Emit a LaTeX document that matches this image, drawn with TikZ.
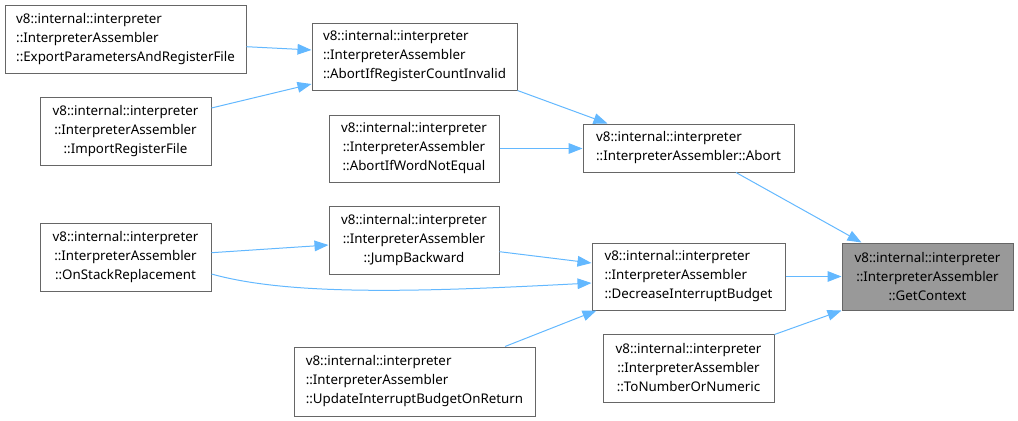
\documentclass[tikz,border=0pt]{standalone}
\usepackage{fontspec}
\setmainfont{Noto Sans}
\usetikzlibrary{arrows.meta,calc}
\definecolor{edgeblue}{HTML}{63B8FF}
\definecolor{boxline}{HTML}{666666}
\definecolor{hilite}{HTML}{999999}
\begin{document}
\begin{tikzpicture}[x=0.75pt,y=-0.75pt,
  box/.style={draw=boxline,line width=0.75pt,fill=white,inner sep=0pt,
    font=\fontsize{10pt}{14.25pt}\selectfont,text=black},
  lbox/.style={box,align=left},
  cbox/.style={box,align=center},
  edge/.style={draw=edgeblue,line width=0.75pt,-{Triangle[length=10.5pt,width=8pt]}}]
\useasboundingbox (0,0) rectangle (1018,421);
\node[lbox,minimum width=180.75pt,minimum height=51pt] (exp) at (125.5,39)
  {v8::internal::interpreter\\::InterpreterAssembler\\::ExportParametersAndRegisterFile};
\node[cbox,minimum width=128.25pt,minimum height=51pt] (imp) at (125.5,131)
  {v8::internal::interpreter\\::InterpreterAssembler\\::ImportRegisterFile};
\node[lbox,minimum width=153.75pt,minimum height=50.25pt] (arc) at (414.5,56.5)
  {v8::internal::interpreter\\::InterpreterAssembler\\::AbortIfRegisterCountInvalid};
\node[cbox,minimum width=127.5pt,minimum height=50.25pt] (wne) at (414,148.5)
  {v8::internal::interpreter\\::InterpreterAssembler\\::AbortIfWordNotEqual};
\node[lbox,minimum width=158.25pt,minimum height=36pt] (abort) at (688.5,148)
  {v8::internal::interpreter\\::InterpreterAssembler::Abort};
\node[lbox,minimum width=144.75pt,minimum height=50.25pt] (dec) at (688.5,276.5)
  {v8::internal::interpreter\\::InterpreterAssembler\\::DecreaseInterruptBudget};
\node[cbox,fill=hilite,minimum width=128.25pt,minimum height=50.25pt] (gc) at (927.5,276.5)
  {v8::internal::interpreter\\::InterpreterAssembler\\::GetContext};
\node[cbox,minimum width=128.25pt,minimum height=51pt] (osr) at (125.5,257.5)
  {v8::internal::interpreter\\::InterpreterAssembler\\::OnStackReplacement};
\node[cbox,minimum width=127.5pt,minimum height=51pt] (jb) at (414,240)
  {v8::internal::interpreter\\::InterpreterAssembler\\::JumpBackward};
\node[lbox,minimum width=180.75pt,minimum height=51.75pt] (upd) at (414.5,381.5)
  {v8::internal::interpreter\\::InterpreterAssembler\\::UpdateInterruptBudgetOnReturn};
\node[cbox,minimum width=128.25pt,minimum height=51pt] (tn) at (688.5,368)
  {v8::internal::interpreter\\::InterpreterAssembler\\::ToNumberOrNumeric};
% edges
\draw[edge] ($(exp.east)+(0,7.7)$) -- ($(arc.west)+(0,-6.5)$);
\draw[edge] ($(imp.east)+(0,-23)$) -- ($(arc.west)+(0,27.5)$);
\draw[edge] (arc.south east) -- ($(abort.north west)+(25,0)$);
\draw[edge] (wne.east) -- (wne.east -| abort.west);
\draw[edge] ($(abort.south)+(47.5,0)$) -- ($(gc.north west)+(20,0)$);
\draw[edge] (dec.east) -- (gc.west);
\draw[edge] ($(osr.east)+(0,-4.8)$) -- ($(jb.west)+(0,5)$);
\draw[edge] ($(osr.east)+(0,16.5)$) .. controls (290,296) and (420,292) .. ($(dec.west)+(0,6.5)$);
\draw[edge] ($(jb.east)+(0,11.7)$) -- ($(dec.west)+(0,-13.5)$);
\draw[edge] ($(upd.north)+(90.5,0)$) -- ($(dec.south west)+(5,0)$);
\draw[edge] ($(tn.north east)+(0,1)$) -- (gc.south west);
\end{tikzpicture}
\end{document}
